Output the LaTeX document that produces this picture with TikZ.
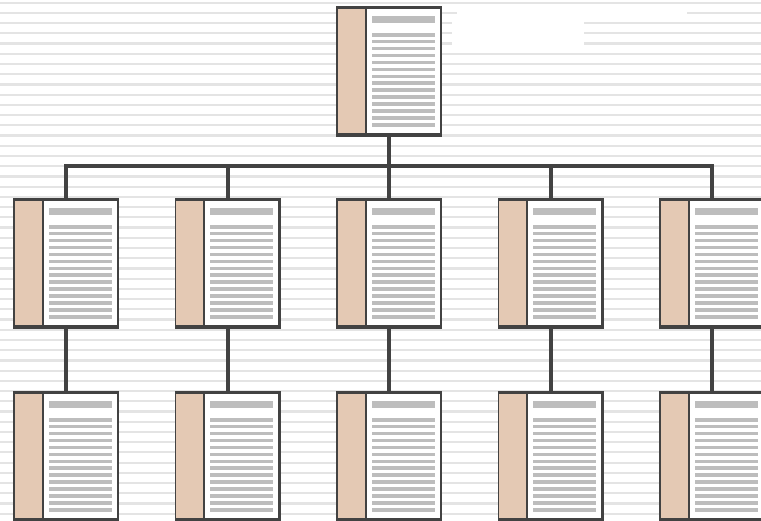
\documentclass[tikz,border=0pt]{standalone}
\usepackage{tikz}
\usepackage{xcolor}
\definecolor{framegray}{HTML}{424242}
\definecolor{spinetan}{HTML}{E4C9B4}
\definecolor{linegray}{HTML}{BDBDBD}
\definecolor{stripegray}{HTML}{E4E4E4}
\tikzset{
    doc-card/.style = {rectangle, fill=framegray, inner sep=0pt, minimum width=106pt, minimum height=131pt},
    link/.style = {draw=framegray, line width=4pt},
    stripe/.style = {draw=stripegray, line width=2.2pt},
}

\begin{document}
\begin{tikzpicture}[x=1pt, y=-1pt]
\useasboundingbox (0,0) rectangle (761,520);
\clip (0,0) rectangle (761,520);
% striped background
\foreach \s in {0,...,50}
    \draw[stripe] (0,2.7+10.22*\s) -- (761,2.7+10.22*\s);
\fill[white] (457,9) rectangle (687,15);
\fill[white] (452,15) rectangle (584,46);

\node[doc-card] (root) at (389,71.5) {};
\foreach \i in {1,...,5} {
    \node[doc-card] (sec-\i) at (66+161.5*\i-161.5,263.5) {};
    \node[doc-card] (sub-\i) at (66+161.5*\i-161.5,456.5) {};
}
% page faces
\foreach \n in {root,sec-1,sec-2,sec-3,sec-4,sec-5,sub-1,sub-2,sub-3,sub-4,sub-5} {
    \begin{scope}[shift={(\n.north west)}]
        \fill[white] (2,3.5) rectangle (104,126.8);
        \fill[spinetan] (2,3.5) rectangle (29,126.8);
        \fill[framegray] (29,3.5) rectangle (31,126.8);
        \fill[linegray] (36,10) rectangle (99,17);
        \foreach \k in {0,...,13}
            \fill[linegray] (36,27+6.95*\k) rectangle (99,30.7+6.95*\k);
    \end{scope}
}
% connectors
\foreach \i in {1,...,5} {
    \draw[link] (root.south) -- ++(0,29) -| (sec-\i.north);
    \draw[link] (sec-\i.south) -- (sub-\i.north);
}
\end{tikzpicture}
\end{document}
